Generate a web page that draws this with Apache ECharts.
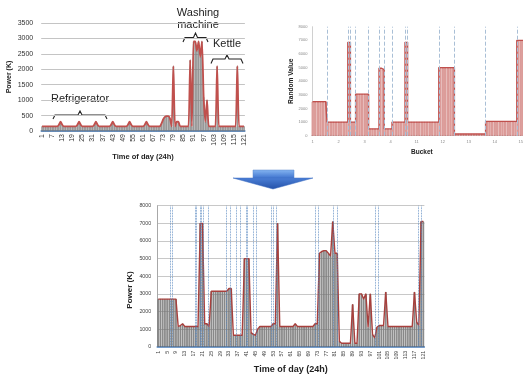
<!DOCTYPE html>
<html>
<head>
<meta charset="utf-8">
<title>Power profile and buckets</title>
<script src="https://cdn.jsdelivr.net/npm/echarts@6.0.0/dist/echarts.min.js"></script>
<style>
  html, body { margin: 0; padding: 0; background: #fff; }
  #chart { width: 523px; height: 376px; }
</style>
</head>
<body>
<div id="chart"></div>
<script>
// sample numbers 1..121 on both time axes
const timeTicks = Array.from({ length: 121 }, (_, i) => String(i + 1))

// top left: measured power per sample
const measuredPower = [
  150, 150, 150, 150, 150, 150, 150, 150, 150, 150,
  200, 300, 200, 150, 150, 150, 150, 150, 150, 150,
  150, 200, 300, 200, 150, 150, 150, 150, 150, 150,
  150, 200, 300, 200, 150, 150, 150, 150, 150, 150,
  150, 200, 300, 200, 150, 150, 150, 150, 150, 150,
  150, 200, 300, 200, 150, 150, 150, 150, 150, 150,
  150, 200, 300, 200, 150, 150, 150, 150, 150, 150,
  150, 250, 380, 460, 480, 480, 400, 150, 2100, 150,
  300, 300, 150, 150, 150, 150, 150, 150, 2300, 150,
  2900, 2900, 2600, 2900, 2400, 2900, 1100, 300, 1000, 150,
  150, 150, 150, 150, 2100, 150, 150, 150, 150, 150,
  150, 150, 150, 150, 150, 150, 2100, 150, 150, 150, 150
]

// top right: random value per bucket slot
const bucketTicks = ['1', '2', '3', '4', '11', '12', '13', '14', '15']
const bucketValues = [
  2500, 2500, 2500, 2500, 2500, 2500,
  1000, 1000, 1000, 1000, 1000, 1000, 1000, 1000,
  6850,
  1000, 1000,
  3050, 3050, 3050, 3050, 3050,
  500, 500, 500, 500,
  4950, 4850,
  500, 500, 500,
  1000, 1000, 1000, 1000, 1000,
  6850,
  1000, 1000, 1000, 1000, 1000, 1000, 1000, 1000, 1000, 1000, 1000, 1000,
  5000, 5000, 5000, 5000, 5000, 5000,
  120, 120, 120, 120, 120, 120, 120, 120, 120, 120, 120, 120,
  1050, 1050, 1050, 1050, 1050, 1050, 1050, 1050, 1050, 1050, 1050, 1050,
  7000, 7000, 7000, 7000, 7000, 7000
]
const bucketSlots = bucketValues.map((_, i) => String(i))
// slot borders (dashed lines)
const bucketBorders = [5.5, 13.5, 14.5, 16.5, 21.5, 25.5, 27.5, 30.5, 35.5, 36.5, 48.5, 54.5, 66.5, 78.5]

// bottom: generated power per sample
const generatedPower = [
  2700, 2700, 2700, 2700, 2700, 2700, 2700, 2700, 2700, 1150,
  1200, 1300, 1150, 1150, 1150, 1150, 1150, 1150, 1150, 7000,
  7000, 1300, 1300, 1150, 3150, 3150, 3150, 3150, 3150, 3150,
  3150, 3150, 3300, 3300, 650, 650, 650, 650, 650, 5000,
  5000, 5000, 800, 700, 650, 1000, 1150, 1150, 1150, 1150,
  1150, 1150, 1300, 1300, 7000, 1150, 1150, 1150, 1150, 1150,
  1150, 1150, 1300, 1150, 1150, 1150, 1150, 1150, 1150, 1150,
  1150, 1300, 1300, 5300, 5400, 5450, 5450, 5300, 5150, 7100,
  5300, 5300, 300, 200, 200, 200, 200, 200, 2400, 200,
  200, 3000, 3000, 2700, 3000, 1100, 3000, 700, 500, 1100,
  1200, 1200, 1200, 3100, 1150, 1150, 1150, 1150, 1150, 1150,
  1150, 1150, 1150, 1150, 1150, 1150, 3100, 1400, 1200, 7100, 7100
]
// bucket borders on the time axis (dashed lines)
const timeBorders = [6.6, 7.5, 17.6, 18.4, 19.9, 20.6, 21.4, 23.6, 31.9, 33.5, 36.5, 38, 40.7, 41.5,
  44, 45.5, 52.3, 53.1, 54.6, 72, 73.5, 80.3, 82.1, 99.1, 100.6, 118.7, 120.2]

const FONT = 'Liberation Sans'
const RED = '#c0504d'
const BLUE_AXIS = '#4a7ebb'
const plain = v => String(v)

function brace(x0, x1, yLine, yEnd, yTip) {
  const xm = (x0 + x1) / 2
  return {
    type: 'polyline',
    shape: {
      points: [[x0, yEnd], [x0 + 2, yLine], [xm - 2, yLine], [xm, yTip], [xm + 2, yLine], [x1 - 2, yLine], [x1, yEnd]]
    },
    style: { stroke: '#222', lineWidth: 1.1, fill: null }
  }
}

function label(text, x, y) {
  return {
    type: 'text',
    x: x,
    y: y,
    style: { text: text, font: '11px ' + FONT, fill: '#222', textAlign: 'center', textVerticalAlign: 'middle' }
  }
}

const chart = echarts.init(document.getElementById('chart'))

const option = {
  animation: false,
  backgroundColor: '#fff',
  grid: [
    { left: 41.2, top: 23, width: 203.7, height: 108, outerBoundsMode: 'none' },
    { left: 311.4, top: 26.7, width: 221, height: 109, outerBoundsMode: 'none' },
    { left: 157.2, top: 205.7, width: 267.2, height: 141, outerBoundsMode: 'none' }
  ],
  xAxis: [
    {
      type: 'category', gridIndex: 0, data: timeTicks,
      name: 'Time of day (24h)', nameLocation: 'middle', nameGap: 22, nameMoveOverlap: false,
      nameTextStyle: { fontFamily: FONT, fontWeight: 'bold', fontSize: 7.5, color: '#222' },
      axisLine: { lineStyle: { color: BLUE_AXIS, width: 1.5 } },
      axisTick: { show: false },
      axisLabel: { interval: 5, rotate: 90, fontSize: 7, fontFamily: FONT, color: '#333', margin: 3 }
    },
    {
      type: 'category', gridIndex: 1, data: bucketSlots,
      name: 'Bucket', nameLocation: 'middle', nameGap: 13, nameMoveOverlap: false,
      nameTextStyle: { fontFamily: FONT, fontWeight: 'bold', fontSize: 6.5, color: '#222' },
      axisLine: { lineStyle: { color: '#d0d0d0', width: 1 } },
      axisTick: { show: false },
      axisLabel: {
        interval: (i) => i % 10 === 0,
        formatter: (v, i) => bucketTicks[i / 10] || '',
        fontSize: 4, fontFamily: FONT, color: '#888', margin: 4
      }
    },
    { type: 'value', gridIndex: 1, show: false, min: -0.5, max: 84.5 },
    {
      type: 'category', gridIndex: 2, data: timeTicks,
      name: 'Time of day (24h)', nameLocation: 'middle', nameGap: 18, nameMoveOverlap: false,
      nameTextStyle: { fontFamily: FONT, fontWeight: 'bold', fontSize: 9, color: '#222' },
      axisLine: { lineStyle: { color: BLUE_AXIS, width: 1.5 } },
      axisTick: { show: false },
      axisLabel: { interval: 3, rotate: 90, fontSize: 5.3, fontFamily: FONT, color: '#444', margin: 4 }
    },
    { type: 'value', gridIndex: 2, show: false, min: 0.5, max: 121.5 }
  ],
  yAxis: [
    {
      type: 'value', gridIndex: 0, min: 0, max: 3500, interval: 500,
      name: 'Power (K)', nameLocation: 'middle', nameGap: 29, nameMoveOverlap: false,
      nameTextStyle: { fontFamily: FONT, fontWeight: 'bold', fontSize: 7, color: '#222' },
      axisLine: { show: false },
      axisTick: { show: false },
      axisLabel: { formatter: plain, fontSize: 7, fontFamily: FONT, color: '#333', margin: 8 },
      splitLine: { lineStyle: { color: '#c4c4c4', width: 1 } }
    },
    {
      type: 'value', gridIndex: 1, min: 0, max: 8000, interval: 1000,
      name: 'Random Value', nameLocation: 'middle', nameGap: 17, nameMoveOverlap: false,
      nameTextStyle: { fontFamily: FONT, fontWeight: 'bold', fontSize: 6.6, color: '#222' },
      axisLine: { show: true, lineStyle: { color: '#d0d0d0' } },
      axisTick: { show: false },
      axisLabel: { formatter: plain, fontSize: 4, fontFamily: FONT, color: '#888', margin: 4 },
      splitLine: { show: false }
    },
    {
      type: 'value', gridIndex: 2, min: 0, max: 8000, interval: 1000,
      axisLine: { show: true, lineStyle: { color: '#a8a8a8' } },
      axisTick: { show: false },
      axisLabel: { formatter: plain, fontSize: 5.3, fontFamily: FONT, color: '#444', margin: 6 },
      splitLine: { lineStyle: { color: '#c8c8c8', width: 1 } }
    }
  ],
  series: [
    // top left
    {
      type: 'bar', xAxisIndex: 0, yAxisIndex: 0, data: measuredPower,
      barCategoryGap: '30%', silent: true,
      itemStyle: { color: '#b8b8b8', borderColor: '#555', borderWidth: 0.4 }
    },
    {
      type: 'line', xAxisIndex: 0, yAxisIndex: 0, data: measuredPower,
      symbol: 'none', smooth: 0.2, silent: true,
      lineStyle: { color: RED, width: 1.8 }
    },
    // top right
    {
      type: 'bar', xAxisIndex: 1, yAxisIndex: 1, data: bucketValues,
      barCategoryGap: '25%', silent: true,
      itemStyle: { color: '#e6b8b7', borderColor: RED, borderWidth: 0.5 }
    },
    {
      type: 'line', xAxisIndex: 1, yAxisIndex: 1, data: bucketValues,
      step: 'middle', symbol: 'none', silent: true,
      lineStyle: { color: RED, width: 1.4 }
    },
    {
      type: 'line', xAxisIndex: 2, yAxisIndex: 1, data: [], silent: true,
      markLine: {
        silent: true, symbol: ['none', 'none'], label: { show: false },
        lineStyle: { color: '#a9bfd6', type: 'dashed', width: 1 },
        data: bucketBorders.map(v => ({ xAxis: v }))
      }
    },
    // bottom
    {
      type: 'bar', xAxisIndex: 3, yAxisIndex: 2, data: generatedPower,
      barCategoryGap: '35%', silent: true,
      itemStyle: { color: '#bdbdbd', borderColor: '#444', borderWidth: 0.5 }
    },
    {
      type: 'line', xAxisIndex: 3, yAxisIndex: 2, data: generatedPower,
      symbol: 'none', silent: true,
      lineStyle: { color: '#a8403d', width: 1.4 }
    },
    {
      type: 'line', xAxisIndex: 4, yAxisIndex: 2, data: [], silent: true,
      markLine: {
        silent: true, symbol: ['none', 'none'], label: { show: false },
        lineStyle: { color: '#4f81bd', type: 'dotted', width: 0.8 },
        data: timeBorders.map(v => ({ xAxis: v }))
      }
    }
  ],
  graphic: [
    label('Washing', 198, 13),
    label('machine', 198, 25),
    label('Kettle', 227, 43.5),
    label('Refrigerator', 80, 99),
    brace(183, 208, 37.5, 42, 33),
    brace(211, 243, 59, 63.5, 55),
    brace(53, 107, 115, 119, 111),
    {
      type: 'text', x: 130, y: 290, rotation: Math.PI / 2,
      style: { text: 'Power (K)', font: 'bold 8px ' + FONT, fill: '#222', textAlign: 'center', textVerticalAlign: 'middle' }
    },
    // arrow between the top and bottom charts
    {
      type: 'rect',
      shape: { x: 253, y: 170, width: 41, height: 8.5 },
      style: {
        fill: { type: 'linear', x: 0, y: 0, x2: 0, y2: 1, colorStops: [{ offset: 0, color: '#86b6f2' }, { offset: 1, color: '#3a6fcc' }] },
        stroke: '#5b86c8', lineWidth: 0.5
      }
    },
    {
      type: 'polygon',
      shape: { points: [[233, 178], [313, 178], [273, 189]] },
      style: {
        fill: { type: 'linear', x: 0, y: 0, x2: 0, y2: 1, colorStops: [{ offset: 0, color: '#4b7fd6' }, { offset: 1, color: '#2451a8' }] },
        stroke: '#3c6cc0', lineWidth: 0.5
      }
    }
  ]
}

chart.setOption(option)
</script>
</body>
</html>
